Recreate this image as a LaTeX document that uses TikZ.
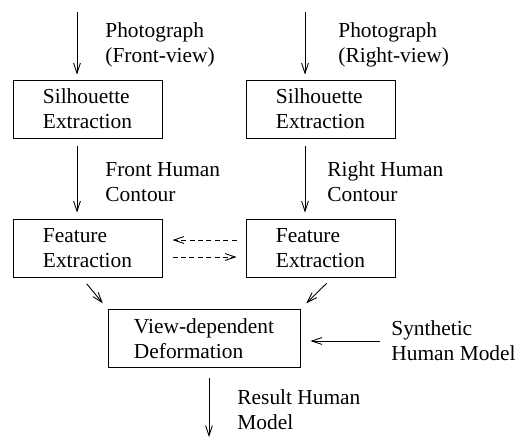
\documentclass[tikz,border=0pt]{standalone}
\usepackage{fontspec}
\setmainfont{Liberation Serif}
\usetikzlibrary{arrows.meta}
\tikzset{
	blockbox/.style={shape=rectangle, draw, line width=0.5pt, minimum width=74.5pt, minimum height=29pt, align=left, inner sep=0pt},
	lbl/.style={anchor=west, align=left, inner sep=0pt},
	arr/.style={line width=0.45pt, -{Straight Barb[length=5pt, width=3.4pt]}},
	dasharr/.style={arr, dash pattern=on 2.5pt off 1.7pt},
}
\begin{document}
\begin{tikzpicture}[x=0.5pt, y=-0.5pt, font=\fontsize{10.7}{12.6}\selectfont]
	\useasboundingbox (0,0) rectangle (515,440);
	\node[blockbox] (silfront) at (87.5,109){Silhouette\\Extraction};
	\node[blockbox] (silright) at (320.5,109){Silhouette\\Extraction};
	\node[blockbox] (featfront) at (87.5,248){Feature\\Extraction};
	\node[blockbox] (featright) at (320.5,248){Feature\\Extraction};
	\node[blockbox, minimum width=96pt] (deform) at (204,338.5){View-dependent\\Deformation};
	\node[lbl] (phfront) at (105,45){Photograph\\(Front-view)};
	\node[lbl] (phright) at (338,45){Photograph\\(Right-view)};
	\node[lbl] (ctfront) at (105,182){Front Human\\Contour};
	\node[lbl] (ctright) at (327,182){Right Human\\Contour};
	\node[lbl] (synth) at (391,341){Synthetic\\Human Model};
	\node[lbl] (result) at (237,410){Result Human\\Model};
	\coordinate (infront) at (77,12);
	\coordinate (inright) at (305,12);
	\coordinate (outmodel) at (209,437);
	\draw[arr, shorten >=2.5pt] (infront) -- (infront |- silfront.north);
	\draw[arr, shorten >=2.5pt] (inright) -- (inright |- silright.north);
	\draw[arr, shorten <=3.5pt, shorten >=3pt] (silfront.south -| infront) -- (featfront.north -| infront);
	\draw[arr, shorten <=3.5pt, shorten >=3pt] (silright.south -| inright) -- (featright.north -| inright);
	\draw[dasharr, shorten <=4.5pt, shorten >=5pt] ([yshift=4pt]featright.west) -- ([yshift=4pt]featfront.east);
	\draw[dasharr, shorten <=5pt, shorten >=4.5pt] ([yshift=-4.5pt]featfront.east) -- ([yshift=-4.5pt]featright.west);
	\draw[arr, shorten <=4.1pt, shorten >=3.7pt] ([xshift=-3pt]featfront.south) -- (deform.north west);
	\draw[arr, shorten <=4.1pt, shorten >=4.1pt] ([xshift=6pt]featright.south) -- (deform.north east);
	\draw[arr, shorten <=5.5pt, shorten >=5pt] (synth.west) -- (synth.west -| deform.east);
	\draw[arr, shorten <=5pt] (deform.south -| outmodel) -- (outmodel);
\end{tikzpicture}
\end{document}
